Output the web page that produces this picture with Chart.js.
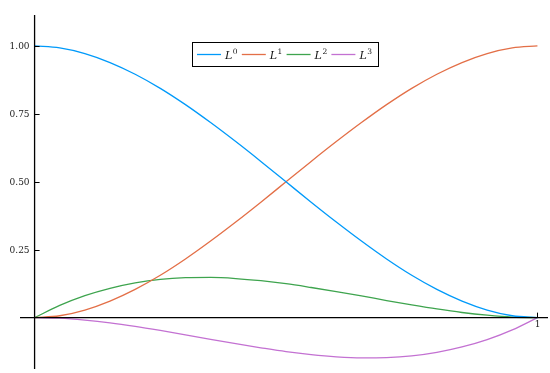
<!DOCTYPE html>
<html>
<head>
<meta charset="utf-8">
<script src="https://cdn.jsdelivr.net/npm/chart.js@4.4.1/dist/chart.umd.min.js"></script>
<style>
  html, body { margin: 0; padding: 0; background: #ffffff; }
  #wrap { width: 550px; height: 373px; }
</style>
</head>
<body>
<div id="wrap"><canvas id="c" width="550" height="373"></canvas></div>
<script>
// Cubic Hermite basis functions sampled on [0, 1]
const xs = [0, 0.05, 0.1, 0.15, 0.2, 0.25, 0.3, 0.35, 0.4, 0.45, 0.5,
            0.55, 0.6, 0.65, 0.7, 0.75, 0.8, 0.85, 0.9, 0.95, 1];
const L0 = [1, 0.993, 0.972, 0.939, 0.896, 0.844, 0.784, 0.718, 0.648, 0.575, 0.5,
            0.425, 0.352, 0.282, 0.216, 0.156, 0.104, 0.061, 0.028, 0.007, 0];
const L1 = [0, 0.007, 0.028, 0.061, 0.104, 0.156, 0.216, 0.282, 0.352, 0.425, 0.5,
            0.575, 0.648, 0.718, 0.784, 0.844, 0.896, 0.939, 0.972, 0.993, 1];
const L2 = [0, 0.045, 0.081, 0.108, 0.128, 0.141, 0.147, 0.148, 0.144, 0.136, 0.125,
            0.111, 0.096, 0.080, 0.063, 0.047, 0.032, 0.019, 0.009, 0.002, 0];
const L3 = [0, -0.002, -0.009, -0.019, -0.032, -0.047, -0.063, -0.080, -0.096, -0.111, -0.125,
            -0.136, -0.144, -0.148, -0.147, -0.141, -0.128, -0.108, -0.081, -0.045, 0];

const seriesBase = ['L', 'L', 'L', 'L'];
const seriesSup = ['0', '1', '2', '3'];
const seriesValues = [L0, L1, L2, L3];
const colors = ['#009AFA', '#E36F47', '#3EA44E', '#C371D2'];

const yTicks = [0.25, 0.5, 0.75, 1.0];
const yTickLabels = ['0.25', '0.50', '0.75', '1.00'];
const xTicks = [1];
const xTickLabels = ['1'];

const datasets = seriesValues.map((vals, i) => ({
  label: seriesBase[i] + seriesSup[i],
  data: xs.map((x, j) => ({ x: x, y: vals[j] })),
  borderColor: colors[i],
  backgroundColor: colors[i],
  borderWidth: 1.3,
  pointRadius: 0,
  cubicInterpolationMode: 'monotone',
  fill: false
}));

// Axes crossing at the origin, inward tick marks, boxed legend
const originAxes = {
  id: 'originAxes',
  afterDatasetsDraw(chart) {
    const ctx = chart.ctx;
    const area = chart.chartArea;
    const xs_ = chart.scales.x, ys_ = chart.scales.y;
    const x0 = xs_.getPixelForValue(0);
    const y0 = ys_.getPixelForValue(0);
    ctx.save();
    ctx.strokeStyle = '#000';
    ctx.lineWidth = 1.3;
    ctx.beginPath();
    ctx.moveTo(area.left, y0); ctx.lineTo(area.right, y0);
    ctx.moveTo(x0, area.top); ctx.lineTo(x0, area.bottom);
    ctx.stroke();

    ctx.lineWidth = 1;
    ctx.fillStyle = '#222';
    ctx.font = '9px "DejaVu Serif"';
    ctx.textAlign = 'right';
    ctx.textBaseline = 'middle';
    yTicks.forEach((v, i) => {
      const py = Math.round(ys_.getPixelForValue(v)) + 0.5;
      ctx.beginPath();
      ctx.moveTo(x0, py); ctx.lineTo(x0 + 5, py);
      ctx.stroke();
      ctx.fillText(yTickLabels[i], x0 - 5, py);
    });
    ctx.textAlign = 'center';
    ctx.textBaseline = 'top';
    xTicks.forEach((v, i) => {
      const px = Math.round(xs_.getPixelForValue(v)) + 0.5;
      ctx.beginPath();
      ctx.moveTo(px, y0); ctx.lineTo(px, y0 - 5);
      ctx.stroke();
      ctx.fillText(xTickLabels[i], px, y0 + 3);
    });

    // legend box
    const lx = 192.5, ly = 42.5, lw = 186, lh = 24;
    ctx.fillStyle = '#fff';
    ctx.fillRect(lx, ly, lw, lh);
    ctx.strokeStyle = '#000';
    ctx.lineWidth = 1;
    ctx.strokeRect(lx, ly, lw, lh);
    ctx.textAlign = 'left';
    ctx.textBaseline = 'alphabetic';
    const cy = ly + lh / 2;
    seriesBase.forEach((name, i) => {
      const sx = 197 + i * 44.8;
      ctx.strokeStyle = colors[i];
      ctx.lineWidth = 1.3;
      ctx.beginPath();
      ctx.moveTo(sx, cy); ctx.lineTo(sx + 24, cy);
      ctx.stroke();
      ctx.fillStyle = '#111';
      ctx.font = 'italic 11px "DejaVu Serif"';
      ctx.fillText(name, sx + 28, cy + 4.5);
      const w = ctx.measureText(name).width;
      ctx.font = '7.5px "DejaVu Serif"';
      ctx.fillText(seriesSup[i], sx + 28 + w + 0.5, cy - 0.5);
    });
    ctx.restore();
  }
};

new Chart(document.getElementById('c'), {
  type: 'line',
  data: { datasets },
  options: {
    responsive: false,
    animation: false,
    layout: { padding: { left: 20, right: 2, top: 15, bottom: 4 } },
    plugins: { legend: { display: false }, tooltip: { enabled: false } },
    scales: {
      x: { type: 'linear', min: -0.029, max: 1.021, display: false },
      y: { type: 'linear', min: -0.189, max: 1.114, display: false }
    }
  },
  plugins: [originAxes]
});
</script>
</body>
</html>
